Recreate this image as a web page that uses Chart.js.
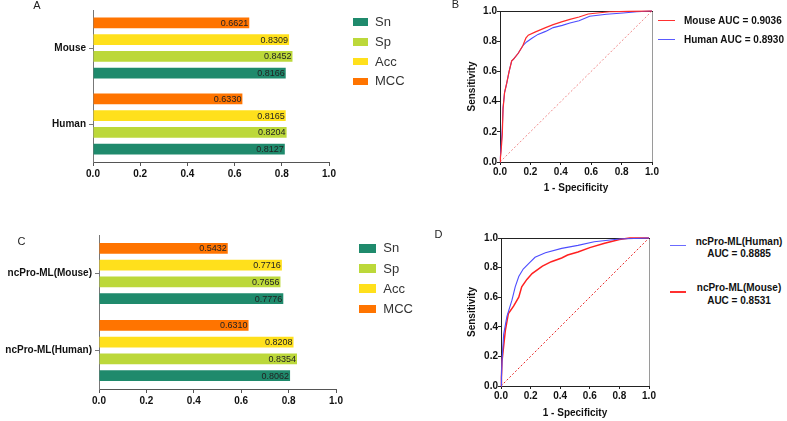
<!DOCTYPE html>
<html>
<head>
<meta charset="utf-8">
<script src="https://cdn.jsdelivr.net/npm/chart.js@4.4.1/dist/chart.umd.min.js"></script>
<style>
    html, body { margin: 0; padding: 0; background: #fff; }
    #fig { position: relative; width: 787px; height: 421px; overflow: hidden; font-family: "Liberation Sans", Arial, sans-serif; color: #222; }
    #fig canvas { position: absolute; }
    .txt { position: absolute; white-space: nowrap; line-height: 1.2; transform: translateY(-50%); }
    .txt.mid { transform: translate(-50%, -50%); text-align: center; }
    .tag { font-size: 11px; color: #222; }
    .leg { font-size: 13px; color: #333; }
    .auc { font-size: 10px; font-weight: bold; color: #111; }
    .sw, .ln { position: absolute; }
</style>
</head>
<body>
<div id="fig">
    <canvas id="chartA" width="345" height="190" style="left:0;top:0"></canvas>
    <canvas id="chartB" width="203" height="200" style="left:462px;top:0"></canvas>
    <canvas id="chartC" width="352" height="190" style="left:0;top:220px"></canvas>
    <canvas id="chartD" width="200" height="195" style="left:462px;top:226px"></canvas>
</div>
<script>
(function () {
    'use strict';

    // bar panels: series listed top-to-bottom inside each group
    var seriesNames = ['MCC', 'Acc', 'Sp', 'Sn'];
    var legendOrder = ['Sn', 'Sp', 'Acc', 'MCC'];
    var axisTicks = [0, 0.2, 0.4, 0.6, 0.8, 1.0];

    var aCategories = ['Mouse', 'Human'];
    var aMcc = [0.6621, 0.6330];
    var aAcc = [0.8309, 0.8165];
    var aSp = [0.8452, 0.8204];
    var aSn = [0.8166, 0.8127];

    var cCategories = ['ncPro-ML(Mouse)', 'ncPro-ML(Human)'];
    var cMcc = [0.5432, 0.6310];
    var cAcc = [0.7716, 0.8208];
    var cSp = [0.7656, 0.8354];
    var cSn = [0.7776, 0.8062];

    // ROC panel B
    var bMouseFpr = [0, 0.003, 0.007, 0.015, 0.02, 0.03, 0.044, 0.06, 0.077, 0.088, 0.12, 0.15, 0.17, 0.186, 0.23, 0.3, 0.35, 0.41, 0.46, 0.52, 0.58, 0.625, 0.72, 0.85, 1];
    var bMouseTpr = [0, 0.03, 0.07, 0.18, 0.35, 0.46, 0.52, 0.6, 0.67, 0.68, 0.72, 0.77, 0.82, 0.84, 0.86, 0.89, 0.91, 0.93, 0.945, 0.96, 0.98, 0.985, 0.995, 0.998, 1];
    var bHumanFpr = [0, 0.003, 0.007, 0.015, 0.02, 0.03, 0.044, 0.06, 0.077, 0.088, 0.12, 0.15, 0.175, 0.21, 0.25, 0.3, 0.35, 0.41, 0.46, 0.52, 0.59, 0.7, 0.81, 0.9, 1];
    var bHumanTpr = [0, 0.04, 0.1, 0.22, 0.36, 0.46, 0.52, 0.6, 0.67, 0.68, 0.72, 0.77, 0.795, 0.82, 0.845, 0.865, 0.89, 0.905, 0.92, 0.935, 0.965, 0.978, 0.987, 0.995, 1];

    // ROC panel D
    var dHumanFpr = [0, 0.003, 0.007, 0.018, 0.04, 0.074, 0.096, 0.12, 0.15, 0.19, 0.23, 0.3, 0.41, 0.52, 0.63, 0.8, 0.9, 1];
    var dHumanTpr = [0, 0.06, 0.17, 0.35, 0.47, 0.58, 0.67, 0.74, 0.79, 0.83, 0.87, 0.9, 0.93, 0.95, 0.975, 0.993, 0.997, 1];
    var dMouseFpr = [0, 0.003, 0.007, 0.03, 0.05, 0.085, 0.12, 0.14, 0.175, 0.21, 0.28, 0.34, 0.41, 0.45, 0.52, 0.6, 0.7, 0.8, 0.87, 1];
    var dMouseTpr = [0, 0.06, 0.17, 0.38, 0.49, 0.54, 0.6, 0.67, 0.72, 0.76, 0.81, 0.84, 0.865, 0.885, 0.905, 0.935, 0.965, 0.99, 1, 1];

    var diagonal = [0, 1];

    var seriesColors = { Sn: '#1f8a6c', Sp: '#bcd83a', Acc: '#ffe01c', MCC: '#ff7400' };
    var FONT = '"Liberation Sans", Arial, sans-serif';

    var barValueLabels = {
        id: 'barValueLabels',
        afterDatasetsDraw: function (chart) {
            var ctx = chart.ctx;
            ctx.save();
            ctx.font = '9px ' + FONT;
            ctx.fillStyle = '#222';
            ctx.textAlign = 'right';
            ctx.textBaseline = 'middle';
            chart.data.datasets.forEach(function (ds, i) {
                chart.getDatasetMeta(i).data.forEach(function (bar, j) {
                    ctx.fillText(ds.data[j].toFixed(4), bar.x - 1, bar.y + 0.5);
                });
            });
            ctx.restore();
        }
    };

    // top + right edges of the ROC frame
    var rocFrame = {
        id: 'rocFrame',
        beforeDatasetsDraw: function (chart) {
            var a = chart.chartArea, ctx = chart.ctx;
            ctx.save();
            ctx.lineWidth = 1;
            ctx.strokeStyle = '#9a9a9a';
            ctx.beginPath();
            ctx.moveTo(a.right + 0.5, a.top);
            ctx.lineTo(a.right + 0.5, a.bottom);
            ctx.stroke();
            ctx.strokeStyle = '#222';
            ctx.beginPath();
            ctx.moveTo(a.left, a.top + 0.5);
            ctx.lineTo(a.right + 1, a.top + 0.5);
            ctx.stroke();
            ctx.restore();
        }
    };

    function fixedTicks(scale) {
        scale.ticks = axisTicks.map(function (v) { return { value: v }; });
    }

    function barChart(canvasId, categories, values, layout) {
        var canvas = document.getElementById(canvasId);
        return new Chart(canvas.getContext('2d'), {
            type: 'bar',
            data: {
                labels: categories,
                datasets: seriesNames.map(function (name, i) {
                    return {
                        label: name,
                        data: values[i],
                        backgroundColor: seriesColors[name],
                        borderWidth: 0,
                        categoryPercentage: layout.catPct,
                        barPercentage: 0.64
                    };
                })
            },
            options: {
                indexAxis: 'y',
                responsive: false,
                animation: false,
                events: [],
                layout: { padding: layout.padding },
                plugins: { legend: { display: false }, tooltip: { enabled: false } },
                scales: {
                    x: {
                        type: 'linear',
                        min: 0,
                        max: 1,
                        afterBuildTicks: fixedTicks,
                        afterFit: function (s) { s.height = 20; },
                        border: { color: '#555', width: 1 },
                        grid: { drawOnChartArea: false, drawTicks: true, tickLength: 4, color: '#555' },
                        ticks: {
                            padding: 2,
                            color: '#111',
                            font: { family: FONT, size: 10, weight: 'bold' },
                            callback: function (v) { return Number(v).toFixed(1); }
                        }
                    },
                    y: {
                        afterFit: function (s) { s.width = layout.yWidth; },
                        border: { color: '#777', width: 1 },
                        grid: { offset: false, drawOnChartArea: false, drawTicks: true, tickLength: 4, color: '#777' },
                        ticks: { padding: 3, color: '#111', font: { family: FONT, size: 10, weight: 'bold' } }
                    }
                }
            },
            plugins: [barValueLabels]
        });
    }

    function points(xs, ys) {
        return xs.map(function (x, i) { return { x: x, y: ys[i] }; });
    }

    function rocChart(canvasId, curves, diagColor, layout) {
        var canvas = document.getElementById(canvasId);
        var datasets = curves.map(function (c) {
            return {
                label: c.label,
                data: points(c.fpr, c.tpr),
                showLine: true,
                borderColor: c.color,
                borderWidth: c.width,
                pointRadius: 0,
                tension: 0,
                clip: 2
            };
        });
        datasets.push({
            label: 'chance',
            data: points(diagonal, diagonal),
            showLine: true,
            borderColor: diagColor,
            borderWidth: 1,
            borderDash: [2, 2],
            pointRadius: 0,
            clip: 2
        });
        var axisFont = { family: FONT, size: 10, weight: 'bold' };
        return new Chart(canvas.getContext('2d'), {
            type: 'scatter',
            data: { datasets: datasets },
            options: {
                responsive: false,
                animation: false,
                events: [],
                layout: { padding: layout.padding },
                plugins: { legend: { display: false }, tooltip: { enabled: false } },
                scales: {
                    x: {
                        min: 0,
                        max: 1,
                        afterBuildTicks: fixedTicks,
                        afterFit: function (s) { s.height = 35; },
                        border: { color: '#222', width: 1 },
                        grid: { drawOnChartArea: false, drawTicks: true, tickLength: 3, color: '#222' },
                        ticks: { padding: 1, color: '#111', font: axisFont, callback: function (v) { return Number(v).toFixed(1); } },
                        title: { display: true, text: '1 - Specificity', color: '#111', font: axisFont, padding: { top: 0, bottom: layout.xTitlePad } }
                    },
                    y: {
                        min: 0,
                        max: 1,
                        afterBuildTicks: fixedTicks,
                        afterFit: function (s) { s.width = layout.yWidth; },
                        border: { color: '#222', width: 1 },
                        grid: { drawOnChartArea: false, drawTicks: true, tickLength: 3, color: '#222' },
                        ticks: { padding: 0, color: '#111', font: axisFont, callback: function (v) { return Number(v).toFixed(1); } },
                        title: { display: true, text: 'Sensitivity', color: '#111', font: axisFont, padding: { top: 4, bottom: 0 } }
                    }
                }
            },
            plugins: [rocFrame]
        });
    }

    // ---- overlay text (panel tags + legends) ----
    var fig = document.getElementById('fig');

    function addText(text, x, y, cls, centered) {
        var el = document.createElement('div');
        el.className = 'txt ' + cls + (centered ? ' mid' : '');
        el.textContent = text;
        el.style.left = x + 'px';
        el.style.top = y + 'px';
        fig.appendChild(el);
        return el;
    }

    function addBox(cls, x, y, w, h, color) {
        var el = document.createElement('div');
        el.className = cls;
        el.style.left = x + 'px';
        el.style.top = y + 'px';
        el.style.width = w + 'px';
        el.style.height = h + 'px';
        el.style.background = color;
        fig.appendChild(el);
    }

    function barLegend(x, y0, step, swW, swH, textX) {
        legendOrder.forEach(function (name, i) {
            var cy = y0 + i * step;
            addBox('sw', x, cy - swH / 2, swW, swH, seriesColors[name]);
            addText(name, textX, cy, 'leg');
        });
    }

    addText('A', 37, 5.5, 'tag', true);
    addText('B', 455.5, 4.5, 'tag', true);
    addText('C', 21.5, 242, 'tag', true);
    addText('D', 438.5, 235, 'tag', true);

    barLegend(352.7, 22, 19.8, 15.6, 7.5, 375);
    barLegend(359.3, 248.3, 20.2, 16.7, 8.7, 383.3);

    addBox('ln', 658, 19.5, 17, 1, '#ff3030');
    addText('Mouse AUC = 0.9036', 684, 20.5, 'auc');
    addBox('ln', 658, 38.5, 17, 1, '#5a5aff');
    addText('Human AUC = 0.8930', 684, 39.5, 'auc');

    addBox('ln', 670, 244.5, 16, 1, '#6b6bff');
    addText('ncPro-ML(Human)', 739, 241.7, 'auc', true);
    addText('AUC = 0.8885', 739, 253.5, 'auc', true);
    addBox('ln', 670, 291, 16, 2, '#ff3030');
    addText('ncPro-ML(Mouse)', 739, 288.3, 'auc', true);
    addText('AUC = 0.8531', 739, 301, 'auc', true);

    // ---- charts ----
    barChart('chartA', aCategories, [aMcc, aAcc, aSp, aSn], {
        padding: { top: 10, right: 16, bottom: 8, left: 0 }, yWidth: 93, catPct: 0.88
    });
    barChart('chartC', cCategories, [cMcc, cAcc, cSp, cSn], {
        padding: { top: 15, right: 16, bottom: 1, left: 0 }, yWidth: 99, catPct: 0.868
    });

    rocChart('chartB', [
        { label: 'Mouse AUC = 0.9036', fpr: bMouseFpr, tpr: bMouseTpr, color: '#ff2a2a', width: 1.2 },
        { label: 'Human AUC = 0.8930', fpr: bHumanFpr, tpr: bHumanTpr, color: '#4d4dff', width: 1.1 }
    ], '#f08a8a', { padding: { top: 11, right: 13, bottom: 3, left: 0 }, yWidth: 38, xTitlePad: 3 });

    rocChart('chartD', [
        { label: 'ncPro-ML(Human) AUC = 0.8885', fpr: dHumanFpr, tpr: dHumanTpr, color: '#4d4dff', width: 1.1 },
        { label: 'ncPro-ML(Mouse) AUC = 0.8531', fpr: dMouseFpr, tpr: dMouseTpr, color: '#ff2020', width: 1.5 }
    ], '#e82a2a', { padding: { top: 12, right: 13, bottom: 0, left: 0 }, yWidth: 39, xTitlePad: 2 });
}());
</script>
</body>
</html>
